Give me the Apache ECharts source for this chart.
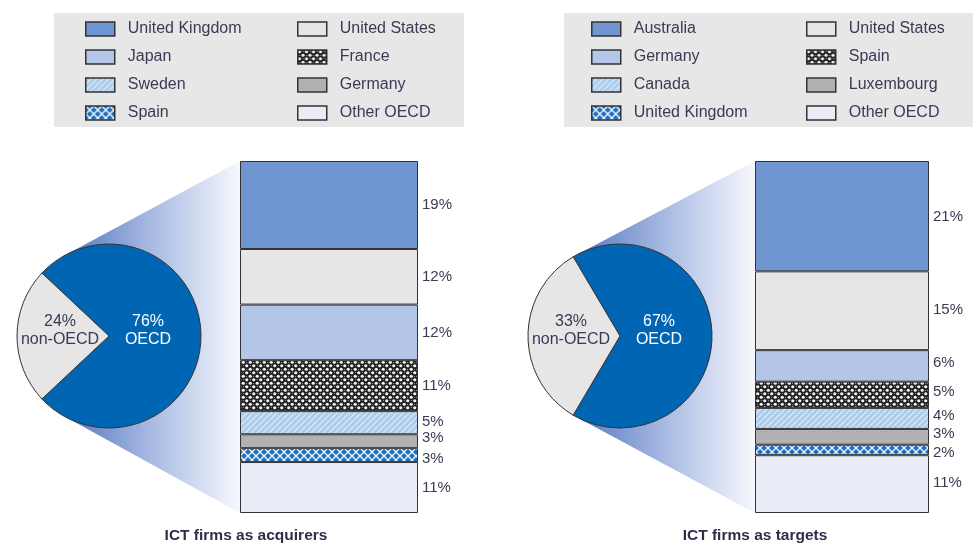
<!DOCTYPE html>
<html><head><meta charset="utf-8">
<script src="https://cdn.jsdelivr.net/npm/echarts/dist/echarts.min.js"></script>
<style>html,body{margin:0;padding:0;background:#fff}#c{width:975px;height:547px}</style>
</head><body><div id="c"></div>
<script>
// ---------------- DATA ----------------
const acqTitle = 'ICT firms as acquirers';
const tgtTitle = 'ICT firms as targets';
const pieNames = ['OECD', 'non-OECD'];
const acqPie = [76, 24];
const tgtPie = [67, 33];
const acqCountries = ['United Kingdom', 'United States', 'Japan', 'France', 'Sweden', 'Germany', 'Spain', 'Other OECD'];
const acqValues = [19, 12, 12, 11, 5, 3, 3, 11];
const tgtCountries = ['Australia', 'United States', 'Germany', 'Spain', 'Canada', 'Luxembourg', 'United Kingdom', 'Other OECD'];
const tgtValues = [21, 15, 6, 5, 4, 3, 2, 11];

// ---------------- STYLE ----------------
function hasFont(name) {
  const c = document.createElement('canvas').getContext('2d');
  const s = 'ICT firms as acquirers mmmwwwiii';
  c.font = '20px monospace'; const a = c.measureText(s).width;
  c.font = '20px "' + name + '", monospace'; const b = c.measureText(s).width;
  return Math.abs(a - b) > 0.5;
}
const narrow = hasFont('Liberation Sans Narrow');
const FONT = "'Liberation Sans', Arial, sans-serif";
const TITLE_FONT = narrow ? "'Liberation Sans Narrow', 'Liberation Sans', Arial, sans-serif" : FONT;
const TITLE_SIZE = narrow ? 19 : 15.5;
const TEXT = '#3a3a55';
const BORDER = '#333';

function tile(w, h, draw) {
  const cv = document.createElement('canvas'); cv.width = w; cv.height = h;
  draw(cv.getContext('2d'), w, h);
  return { image: cv, repeat: 'repeat' };
}
const checker = tile(7, 7, (g, w, h) => {
  g.fillStyle = '#222'; g.fillRect(0, 0, w, h);
  g.fillStyle = '#f4f4f4';
  g.beginPath(); g.arc(1.75, 1.75, 1.6, 0, Math.PI * 2); g.fill();
  g.beginPath(); g.arc(5.25, 5.25, 1.6, 0, Math.PI * 2); g.fill();
  g.fillStyle = '#909090';
  g.fillRect(5, 1, 1, 1); g.fillRect(1, 5, 1, 1);
});
const hatch = tile(6, 6, (g, w, h) => {
  g.fillStyle = '#aecdec'; g.fillRect(0, 0, w, h);
  g.strokeStyle = 'rgba(255,255,255,0.6)'; g.lineWidth = 1.2;
  for (let k = -w; k <= w * 2; k += 6) { g.beginPath(); g.moveTo(k, h); g.lineTo(k + h, 0); g.stroke(); }
});
const cross = tile(8, 8, (g, w, h) => {
  g.fillStyle = '#1f70c2'; g.fillRect(0, 0, w, h);
  g.strokeStyle = 'rgba(255,255,255,0.9)'; g.lineWidth = 1.4;
  for (let k = -w; k <= w * 2; k += 8) {
    g.beginPath(); g.moveTo(k, h); g.lineTo(k + h, 0); g.stroke();
    g.beginPath(); g.moveTo(k, 0); g.lineTo(k + h, h); g.stroke();
  }
});
const fills = ['#6f96d1', '#e6e6e6', '#b3c6e7', checker, hatch, '#b1b1b1', cross, '#e9ecf7'];
const pieColors = ['#0066b3', '#e6e6e6'];
const pieLabelColors = ['#ffffff', TEXT];
const pieLabelOffsets = [[-10, -5], [0, -5]];

const panels = [
  { title: acqTitle, pie: acqPie, names: acqCountries, values: acqValues,
    legendBox: [54, 13, 410, 114], col1: 85, col2: 297, pieC: [109, 336], pieR: 92,
    grid: { left: 240, top: 161, width: 178, height: 352 }, titleX: 246,
    offsets: [0, 0, 0, 0, -1, -3, 4, 0] },
  { title: tgtTitle, pie: tgtPie, names: tgtCountries, values: tgtValues,
    legendBox: [564, 13, 409, 114], col1: 591, col2: 806, pieC: [620, 336], pieR: 92,
    grid: { left: 755, top: 161, width: 174, height: 352 }, titleX: 755,
    offsets: [1, -1, -3, -3, -3, -3, 3, -1] }
];

const grids = [], xAxes = [], yAxes = [], series = [], legends = [], graphics = [];

panels.forEach((p, pi) => {
  const total = p.values.reduce((a, b) => a + b, 0);
  grids.push(Object.assign({ containLabel: false, outerBoundsMode: 'none' }, p.grid));
  xAxes.push({ type: 'category', gridIndex: pi, data: [''], show: false });
  yAxes.push({ type: 'value', gridIndex: pi, min: 0, max: total, inverse: true, show: false });
  p.names.forEach((n, i) => {
    series.push({
      type: 'bar', name: n, stack: 's' + pi, xAxisIndex: pi, yAxisIndex: pi,
      barWidth: '100%', silent: true,
      itemStyle: { color: fills[i], borderColor: BORDER, borderWidth: 1 },
      label: { show: true, position: 'right', distance: 4, formatter: '{c}%',
        color: TEXT, fontSize: 15, fontFamily: FONT, offset: [0, p.offsets[i]] },
      data: [p.values[i]]
    });
  });
  series.push({
    type: 'pie', center: p.pieC, radius: p.pieR, silent: true, clockwise: true,
    startAngle: 180 - p.pie[1] * 1.8, z: 5,
    itemStyle: { borderColor: BORDER, borderWidth: 1 },
    label: { show: true, position: 'inside', fontSize: 16, lineHeight: 18, fontFamily: FONT,
      formatter: d => d.value + '%\n' + d.name },
    labelLine: { show: false },
    data: pieNames.map((n, i) => ({ name: n, value: p.pie[i],
      itemStyle: { color: pieColors[i] },
      label: { color: pieLabelColors[i], offset: pieLabelOffsets[i] } }))
  });
  [[0, 2, 4, 6, p.col1], [1, 3, 5, 7, p.col2]].forEach(col => {
    legends.push({
      orient: 'vertical', left: col[4], top: 21, padding: 0, itemWidth: 29, itemHeight: 14,
      itemGap: 12, icon: 'rect', selectedMode: false,
      textStyle: { fontSize: 16, color: TEXT, fontFamily: FONT, padding: [0, 0, 0, 8] },
      data: col.slice(0, 4).map(i => ({ name: p.names[i],
        itemStyle: { color: fills[i], borderColor: BORDER, borderWidth: 1.5 } }))
    });
  });
  graphics.push({ type: 'rect', z: 0, silent: true,
    shape: { x: p.legendBox[0], y: p.legendBox[1], width: p.legendBox[2], height: p.legendBox[3] },
    style: { fill: '#e7e7e7' } });
  const C = p.pieC, r = p.pieR;
  const tan = (P, sign) => {
    const dx = P[0] - C[0], dy = P[1] - C[1], d = Math.hypot(dx, dy);
    const th = Math.atan2(dy, dx) + sign * Math.acos(r / d);
    return [C[0] + r * Math.cos(th), C[1] + r * Math.sin(th)];
  };
  const PT = [p.grid.left, p.grid.top], PB = [p.grid.left, p.grid.top + p.grid.height];
  const TU = tan(PT, -1), TL = tan(PB, 1);
  graphics.push({ type: 'polygon', z: 1, silent: true,
    shape: { points: [PT, TU, C, TL, PB] },
    style: { fill: new echarts.graphic.LinearGradient(TU[0], 0, p.grid.left, 0,
      [{ offset: 0, color: '#5577c2' }, { offset: 0.5, color: '#a9bbe3' }, { offset: 1, color: '#f7f8fd' }], true) } });
  graphics.push({ type: 'text', z: 10, silent: true, x: p.titleX, y: 536,
    style: { text: p.title, font: 'bold ' + TITLE_SIZE + 'px ' + TITLE_FONT, fill: '#2e2e48',
      textAlign: 'center', textVerticalAlign: 'middle' } });
});

const chart = echarts.init(document.getElementById('c'), null, { renderer: 'canvas' });
chart.setOption({
  animation: false,
  backgroundColor: '#ffffff',
  grid: grids, xAxis: xAxes, yAxis: yAxes,
  legend: legends, series: series, graphic: graphics,
  tooltip: { show: false }
});
</script>
</body></html>
